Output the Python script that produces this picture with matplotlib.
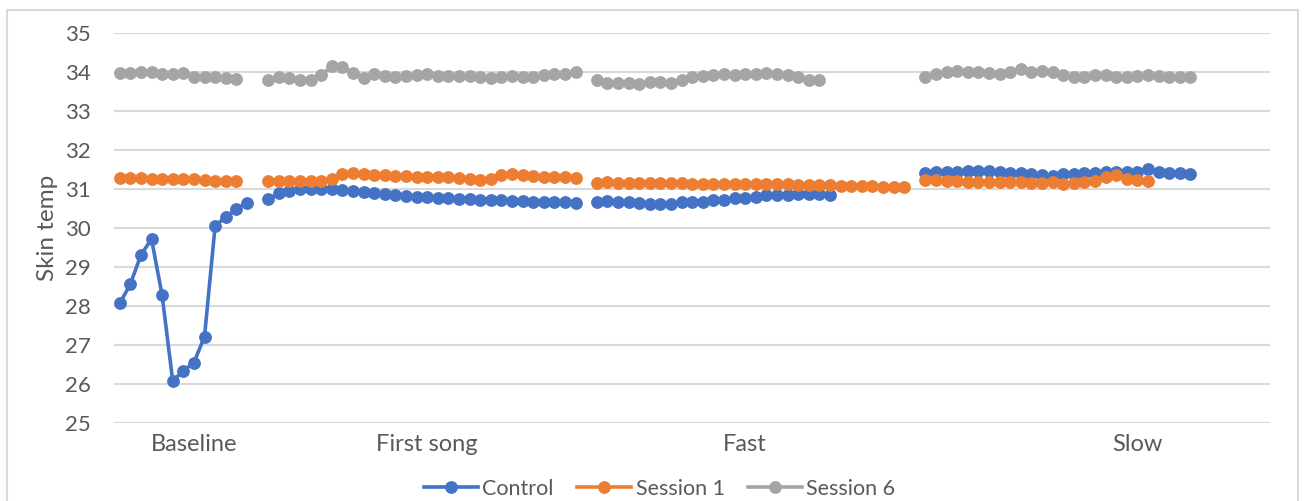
import numpy as np
import matplotlib
matplotlib.use('Agg')
import matplotlib.pyplot as plt
from matplotlib.patches import Rectangle

plt.rcParams['font.family'] = ['Lato', 'DejaVu Sans']

# rows per section of the sheet (blank rows = gaps)
section_rows = [14, 31, 31, 33]
section_names = ['Baseline', 'First song', 'Fast', 'Slow']
label_rows = [7, 29, 59, 96]

control_baseline = [28.06, 28.55, 29.30, 29.71, 28.27, 26.07, 26.33, 26.54, 27.21, 30.04, 30.28, 30.48, 30.64]
control_first = [30.73, 30.88, 30.95, 30.99, 31.00, 31.00, 30.99, 30.96, 30.93, 30.91,
                 30.89, 30.86, 30.84, 30.82, 30.80, 30.78, 30.77, 30.75, 30.74, 30.73,
                 30.72, 30.71, 30.70, 30.69, 30.68, 30.67, 30.67, 30.66, 30.66, 30.64]
control_fast = [30.67, 30.69, 30.67, 30.65, 30.64, 30.62, 30.62, 30.62, 30.65, 30.65,
                30.67, 30.70, 30.72, 30.75, 30.77, 30.79, 30.83, 30.85, 30.85, 30.87,
                30.87, 30.87, 30.85]
control_slow = [31.41, 31.42, 31.42, 31.44, 31.46, 31.46, 31.46, 31.42, 31.41, 31.40,
                31.37, 31.35, 31.33, 31.37, 31.38, 31.40, 31.40, 31.42, 31.43, 31.42,
                31.42, 31.50, 31.42, 31.41, 31.41, 31.38]

s1_baseline = [31.27, 31.27, 31.27, 31.26, 31.25, 31.25, 31.24, 31.24, 31.23, 31.21, 31.21, 31.20]
s1_first = [31.21, 31.21, 31.21, 31.21, 31.20, 31.21, 31.25, 31.38, 31.39, 31.38,
            31.36, 31.34, 31.32, 31.32, 31.31, 31.30, 31.30, 31.29, 31.28, 31.25,
            31.23, 31.25, 31.34, 31.37, 31.34, 31.33, 31.31, 31.31, 31.29, 31.28]
s1_fast = [31.15, 31.16, 31.15, 31.15, 31.15, 31.14, 31.14, 31.14, 31.14, 31.13,
           31.13, 31.13, 31.13, 31.12, 31.12, 31.12, 31.11, 31.11, 31.11, 31.10,
           31.10, 31.09, 31.09, 31.08, 31.07, 31.06, 31.06, 31.05, 31.05, 31.05]
s1_slow = [31.22, 31.22, 31.21, 31.20, 31.18, 31.18, 31.17, 31.16, 31.16, 31.16,
           31.14, 31.14, 31.16, 31.11, 31.14, 31.16, 31.20, 31.31, 31.35, 31.25,
           31.22, 31.21]

s6_baseline = [33.97, 33.97, 33.98, 33.98, 33.95, 33.95, 33.96, 33.87, 33.87, 33.87, 33.85, 33.81]
s6_first = [33.80, 33.87, 33.83, 33.80, 33.80, 33.91, 34.15, 34.11, 33.97, 33.85,
            33.93, 33.88, 33.87, 33.88, 33.91, 33.93, 33.88, 33.88, 33.88, 33.88,
            33.87, 33.85, 33.87, 33.88, 33.87, 33.87, 33.91, 33.93, 33.95, 34.00]
s6_fast = [33.80, 33.72, 33.70, 33.70, 33.68, 33.74, 33.74, 33.72, 33.79, 33.86,
           33.90, 33.92, 33.93, 33.92, 33.93, 33.93, 33.96, 33.93, 33.92, 33.86,
           33.79, 33.80]
s6_slow = [33.87, 33.94, 34.00, 34.01, 34.00, 33.99, 33.96, 33.94, 34.00, 34.06,
           34.00, 34.02, 34.00, 33.92, 33.86, 33.86, 33.92, 33.92, 33.86, 33.86,
           33.89, 33.92, 33.89, 33.87, 33.86, 33.86]


def build(segments):
    # pad each section with blanks so the rows line up
    out = []
    for seg, n in zip(segments, section_rows):
        out += list(seg) + [np.nan] * (n - len(seg))
    return np.array(out)


series = [
    ('Control', build([control_baseline, control_first, control_fast, control_slow]), '#4472C4'),
    ('Session 1', build([s1_baseline, s1_first, s1_fast, s1_slow]), '#ED7D31'),
    ('Session 6', build([s6_baseline, s6_first, s6_fast, s6_slow]), '#A5A5A5'),
]

fig = plt.figure(figsize=(13.06, 5.01), dpi=100)
ax = fig.add_axes([0.0876, 0.1563, 0.8847, 0.7784])

# chart frame
fig.patches.append(Rectangle((7 / 1306, -0.1), 1291 / 1306, 1.1 - 10 / 501,
                             transform=fig.transFigure, fill=False,
                             edgecolor='#D9D9D9', lw=1.5))

x = np.arange(sum(section_rows))
for name, y, c in series:
    ax.plot(x, y, color=c, lw=2.6, marker='o', ms=8.2, label=name)

ax.set_xlim(-0.5, len(x) - 0.5)
ax.set_ylim(25, 35)
ax.set_yticks(range(25, 36))
ax.set_xticks(label_rows)
ax.set_xticklabels(section_names)
ax.grid(axis='y', color='#D9D9D9', lw=1.5)
ax.set_axisbelow(True)
for s in ax.spines.values():
    s.set_visible(False)
ax.tick_params(axis='y', length=0, pad=17, labelsize=16, labelcolor='#595959')
ax.tick_params(axis='x', length=0, pad=8, labelsize=17, labelcolor='#595959')
ax.set_ylabel('Skin temp', fontsize=17.5, color='#595959', labelpad=5)

ax.legend(loc='center', bbox_to_anchor=(0.472, -0.17), ncol=3, frameon=False,
          fontsize=15.5, handlelength=2.5, handletextpad=0.2, columnspacing=1.1,
          labelcolor='#595959')

fig.savefig('out.png', dpi=100)
